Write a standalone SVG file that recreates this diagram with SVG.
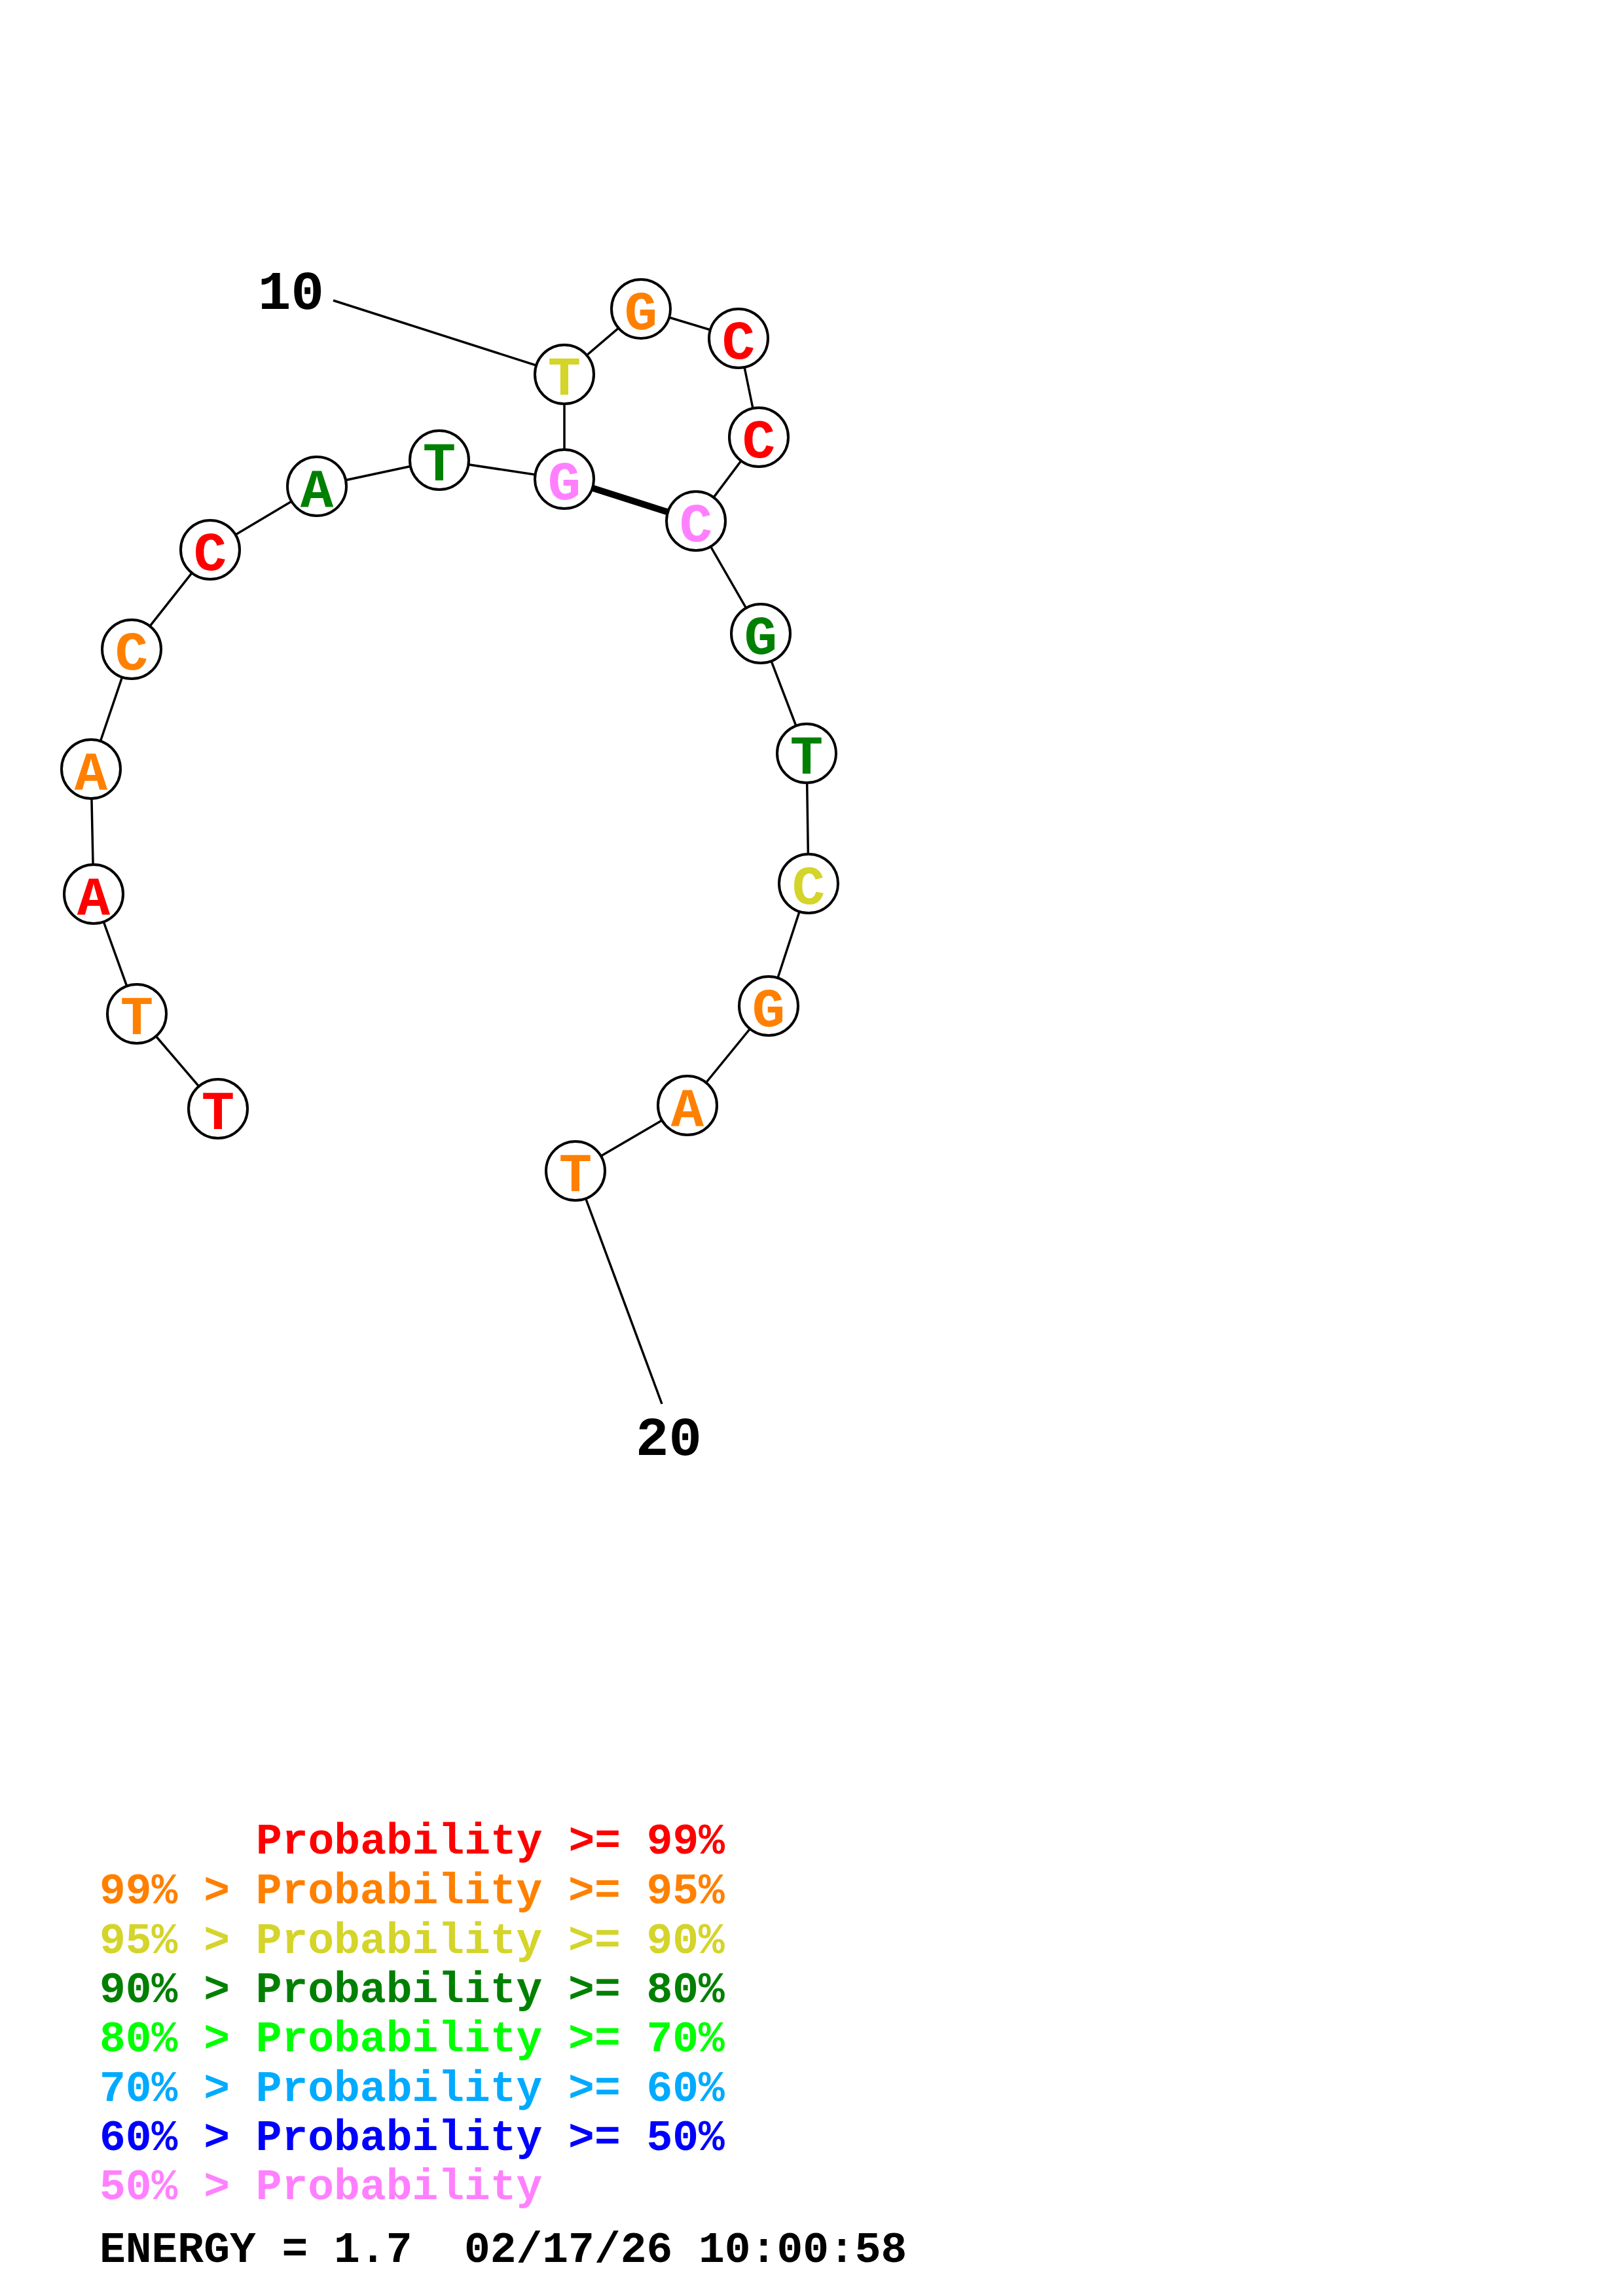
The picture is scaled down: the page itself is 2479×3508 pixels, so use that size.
<svg xmlns="http://www.w3.org/2000/svg" width="2479" height="3508" viewBox="0 0 2479 3508">
<style>
.bg{fill:#ffffff}
.nc{fill:#ffffff;stroke:#000000;stroke-width:4}
.ln{stroke:#000000;stroke-width:3.5;fill:none}
.bp{stroke:#000000;stroke-width:10;fill:none}
.nt{font-family:"Liberation Mono","DejaVu Sans Mono",monospace;font-weight:bold;font-size:84px;text-anchor:middle}
.lb{font-family:"Liberation Mono","DejaVu Sans Mono",monospace;font-weight:bold;font-size:84px;fill:#000000}
.lg{font-family:"Liberation Mono","DejaVu Sans Mono",monospace;font-weight:bold;font-size:66.3px;white-space:pre}
.r{fill:#FF0000}.o{fill:#FF8000}.y{fill:#D4D42A}.g{fill:#008000}.lgr{fill:#00FF00}.lb2{fill:#00AAFF}.b{fill:#0000FF}.p{fill:#FF80FF}.k{fill:#000000}
</style>
<rect class="bg" x="0" y="0" width="2479" height="3508"/>
<g id="connectors">
<polyline class="ln" points="333,1694 209,1549 143,1366 139,1175 201,992 321,840 484,743 671,703 862,732 862,572 979,472 1128,517 1159,668 1063,796 1162,968 1232,1151 1235,1350 1174,1537 1050,1689 879,1789"/>
<line class="bp" x1="862" y1="732" x2="1063" y2="796"/>
<line class="ln" x1="509" y1="459" x2="862" y2="572"/>
<line class="ln" x1="879" y1="1789" x2="1011" y2="2145"/>
</g>
<g id="n1"><circle class="nc" cx="333" cy="1694" r="45"/><text class="nt r" x="333" y="1725">T</text></g>
<g id="n2"><circle class="nc" cx="209" cy="1549" r="45"/><text class="nt o" x="209" y="1580">T</text></g>
<g id="n3"><circle class="nc" cx="143" cy="1366" r="45"/><text class="nt r" x="143" y="1397">A</text></g>
<g id="n4"><circle class="nc" cx="139" cy="1175" r="45"/><text class="nt o" x="139" y="1206">A</text></g>
<g id="n5"><circle class="nc" cx="201" cy="992" r="45"/><text class="nt o" x="201" y="1023">C</text></g>
<g id="n6"><circle class="nc" cx="321" cy="840" r="45"/><text class="nt r" x="321" y="871">C</text></g>
<g id="n7"><circle class="nc" cx="484" cy="743" r="45"/><text class="nt g" x="484" y="774">A</text></g>
<g id="n8"><circle class="nc" cx="671" cy="703" r="45"/><text class="nt g" x="671" y="734">T</text></g>
<g id="n9"><circle class="nc" cx="862" cy="732" r="45"/><text class="nt p" x="862" y="763">G</text></g>
<g id="n10"><circle class="nc" cx="862" cy="572" r="45"/><text class="nt y" x="862" y="603">T</text></g>
<g id="n11"><circle class="nc" cx="979" cy="472" r="45"/><text class="nt o" x="979" y="503">G</text></g>
<g id="n12"><circle class="nc" cx="1128" cy="517" r="45"/><text class="nt r" x="1128" y="548">C</text></g>
<g id="n13"><circle class="nc" cx="1159" cy="668" r="45"/><text class="nt r" x="1159" y="699">C</text></g>
<g id="n14"><circle class="nc" cx="1063" cy="796" r="45"/><text class="nt p" x="1063" y="827">C</text></g>
<g id="n15"><circle class="nc" cx="1162" cy="968" r="45"/><text class="nt g" x="1162" y="999">G</text></g>
<g id="n16"><circle class="nc" cx="1232" cy="1151" r="45"/><text class="nt g" x="1232" y="1182">T</text></g>
<g id="n17"><circle class="nc" cx="1235" cy="1350" r="45"/><text class="nt y" x="1235" y="1381">C</text></g>
<g id="n18"><circle class="nc" cx="1174" cy="1537" r="45"/><text class="nt o" x="1174" y="1568">G</text></g>
<g id="n19"><circle class="nc" cx="1050" cy="1689" r="45"/><text class="nt o" x="1050" y="1720">A</text></g>
<g id="n20"><circle class="nc" cx="879" cy="1789" r="45"/><text class="nt o" x="879" y="1820">T</text></g>
<g id="labels">
<text class="lb" x="394" y="472">10</text>
<text class="lb" x="971" y="2223">20</text>
</g>
<g id="legend">
<text class="lg r" x="391" y="2832">Probability &gt;= 99%</text>
<text class="lg o" x="152" y="2908">99% &gt; Probability &gt;= 95%</text>
<text class="lg y" x="152" y="2984">95% &gt; Probability &gt;= 90%</text>
<text class="lg g" x="152" y="3059">90% &gt; Probability &gt;= 80%</text>
<text class="lg lgr" x="152" y="3134">80% &gt; Probability &gt;= 70%</text>
<text class="lg lb2" x="152" y="3210">70% &gt; Probability &gt;= 60%</text>
<text class="lg b" x="152" y="3285">60% &gt; Probability &gt;= 50%</text>
<text class="lg p" x="152" y="3360">50% &gt; Probability</text>
<text class="lg k" x="152" y="3456">ENERGY = 1.7  02/17/26 10:00:58</text>
</g>
</svg>
